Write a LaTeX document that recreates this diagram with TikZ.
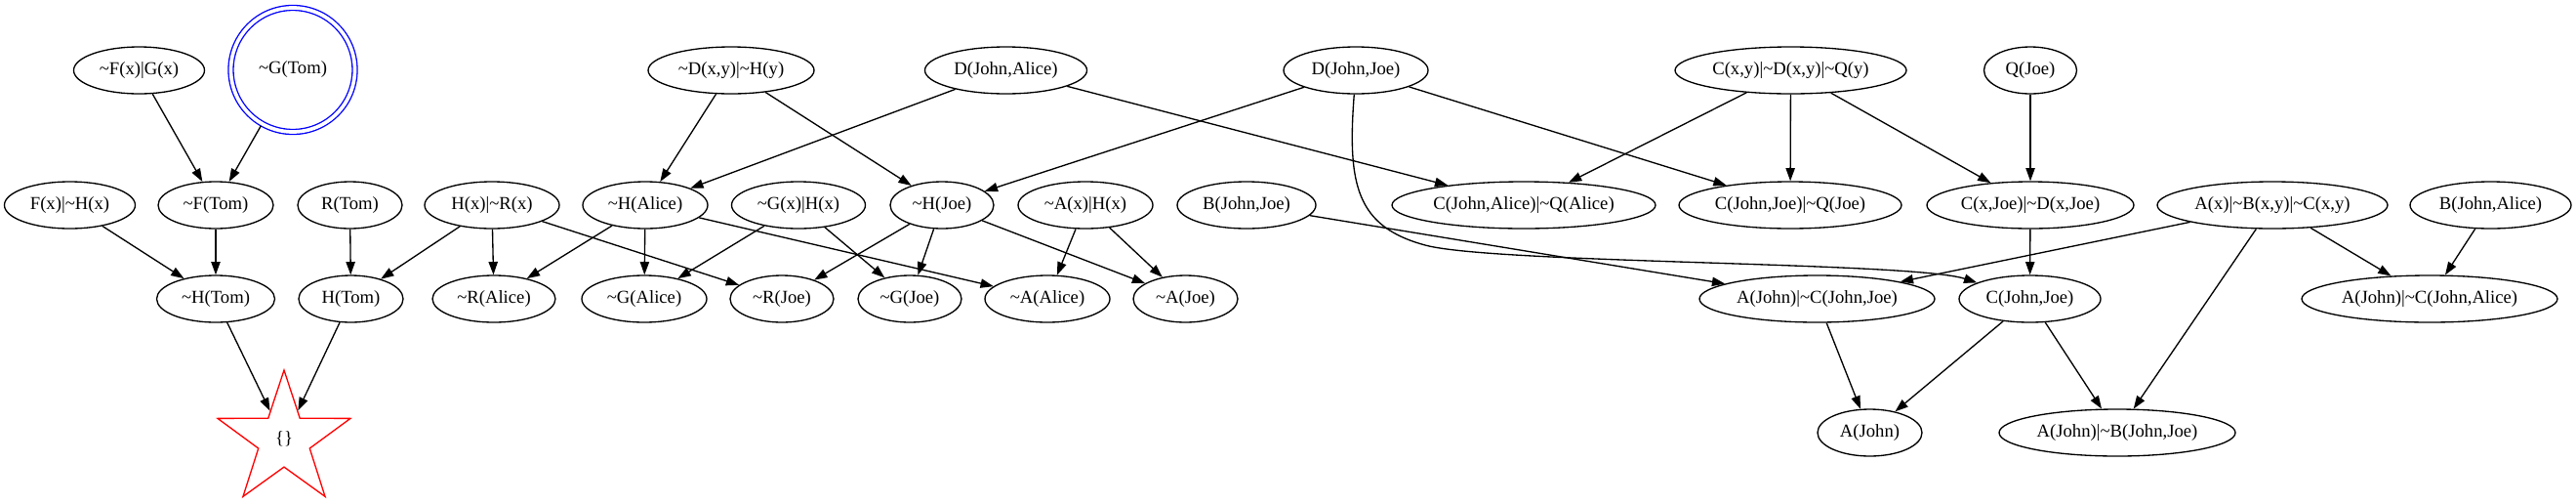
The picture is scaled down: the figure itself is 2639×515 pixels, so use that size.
\documentclass[tikz,border=0pt]{standalone}
\usepackage{fontspec}
\setmainfont{Liberation Serif}
\usetikzlibrary{shapes.geometric,arrows.meta}
\newcommand{\nt}{\textasciitilde}
\begin{document}
\begin{tikzpicture}[x=1pt,y=-1pt,
  gv/.style={draw, ellipse, line width=1.33pt, inner sep=0pt, minimum height=48pt,
    font=\fontsize{18.67pt}{22pt}\selectfont},
  dc/.style={draw=blue, circle, double, double distance=3.7pt, line width=1.33pt,
    minimum size=127pt, inner sep=0pt, outer sep=2.5pt, font=\fontsize{18.67pt}{22pt}\selectfont},
  stnode/.style={draw=red, star, star points=5, star point ratio=2.59, line width=1.33pt,
    minimum size=143pt, inner sep=0pt, font=\fontsize{18.67pt}{22pt}\selectfont},
  arr/.style={line width=1.33pt, -{Triangle[length=13.3pt,width=9.3pt]}}
]
\useasboundingbox (0,0) rectangle (2639,515);
% row 1
\node[gv, minimum width=134pt] (negFG) at (142.5,72) {\nt F(x)|G(x)};
\node[dc] (negGTom) at (300,71.5) {\nt G(Tom)};
\node[gv, minimum width=170pt] (negDH) at (749,72) {\nt D(x,y)|\nt H(y)};
\node[gv, minimum width=166pt] (DJA) at (1030.5,72) {D(John,Alice)};
\node[gv, minimum width=148pt] (DJJ) at (1389,72) {D(John,Joe)};
\node[gv, minimum width=237pt] (CxyDQ) at (1834.5,72) {C(x,y)|\nt D(x,y)|\nt Q(y)};
\node[gv, minimum width=95pt] (QJoe) at (2080,72) {Q(Joe)};
% row 2
\node[gv, minimum width=134pt] (FnegH) at (71.5,210) {F(x)|\nt H(x)};
\node[gv, minimum width=118pt] (negFTom) at (221,210) {\nt F(Tom)};
\node[gv, minimum width=107pt] (RTom) at (358.5,210) {R(Tom)};
\node[gv, minimum width=138pt] (HRx) at (504,210) {H(x)|\nt R(x)};
\node[gv, minimum width=128pt] (negHAlice) at (661,210) {\nt H(Alice)};
\node[gv, minimum width=137pt] (negGxHx) at (818,210) {\nt G(x)|H(x)};
\node[gv, minimum width=106pt] (negHJoe) at (965,210) {\nt H(Joe)};
\node[gv, minimum width=138pt] (negAxHx) at (1112,210) {\nt A(x)|H(x)};
\node[gv, minimum width=142pt] (BJJ) at (1277,210) {B(John,Joe)};
\node[gv, minimum width=270pt] (CJAQA) at (1561,210) {C(John,Alice)|\nt Q(Alice)};
\node[gv, minimum width=228pt] (CJJQJ) at (1834,210) {C(John,Joe)|\nt Q(Joe)};
\node[gv, minimum width=212pt] (CxJDxJ) at (2080,210) {C(x,Joe)|\nt D(x,Joe)};
\node[gv, minimum width=236pt] (AxBC) at (2328,210) {A(x)|\nt B(x,y)|\nt C(x,y)};
\node[gv, minimum width=165pt] (BJA) at (2551.5,210) {B(John,Alice)};
% row 3
\node[gv, minimum width=121pt] (negHTom) at (221,306) {\nt H(Tom)};
\node[gv, minimum width=107pt] (HTom) at (359.5,306) {H(Tom)};
\node[gv, minimum width=126pt] (negRAlice) at (506,306) {\nt R(Alice)};
\node[gv, minimum width=128pt] (negGAlice) at (660,306) {\nt G(Alice)};
\node[gv, minimum width=106pt] (negRJoe) at (801,306) {\nt R(Joe)};
\node[gv, minimum width=106pt] (negGJoe) at (932,306) {\nt G(Joe)};
\node[gv, minimum width=128pt] (negAAlice) at (1073,306) {\nt A(Alice)};
\node[gv, minimum width=107pt] (negAJoe) at (1214.5,306) {\nt A(Joe)};
\node[gv, minimum width=241pt] (AJCJJ) at (1861.5,306) {A(John)|\nt C(John,Joe)};
\node[gv, minimum width=145pt] (CJoe) at (2079.5,306) {C(John,Joe)};
\node[gv, minimum width=262pt] (AJCJA) at (2489,306) {A(John)|\nt C(John,Alice)};
% row 4
\node[stnode] (empty) at (291,450.5) {\raisebox{5pt}{\{\}}};
\node[gv, minimum width=107pt] (AJohn) at (1915.5,443) {A(John)};
\node[gv, minimum width=242pt] (AJBJJ) at (2169,443) {A(John)|\nt B(John,Joe)};
% edges
\draw[arr] (negFG) -- (negFTom);
\draw[arr] (negGTom) -- (negFTom);
\draw[arr] (FnegH) -- (negHTom);
\draw[arr] (negFTom) -- (negHTom);
\draw[arr] (RTom) -- (HTom);
\draw[arr] (HRx) -- (HTom);
\draw[arr] (HRx) -- (negRAlice);
\draw[arr] (HRx) -- (negRJoe);
\draw[arr] (negHTom) -- (empty);
\draw[arr] (HTom) -- (empty);
\draw[arr] (negDH) -- (negHAlice);
\draw[arr] (negDH) -- (negHJoe);
\draw[arr] (DJA) -- (negHAlice);
\draw[arr] (DJA) -- (CJAQA);
\draw[arr] (DJJ) -- (negHJoe);
\draw[arr] (DJJ) -- (CJJQJ);
\draw[arr] (DJJ.266) .. controls (1380,190) and (1390,232) .. (1460,251)
  .. controls (1530,270) and (1960,268) .. (CJoe.163);
\draw[arr] (negHAlice) -- (negRAlice);
\draw[arr] (negHAlice) -- (negGAlice);
\draw[arr] (negHAlice) -- (negAAlice);
\draw[arr] (negGxHx) -- (negGAlice);
\draw[arr] (negGxHx) -- (negGJoe);
\draw[arr] (negHJoe) -- (negRJoe);
\draw[arr] (negHJoe) -- (negGJoe);
\draw[arr] (negHJoe) -- (negAJoe);
\draw[arr] (negAxHx) -- (negAAlice);
\draw[arr] (negAxHx) -- (negAJoe);
\draw[arr] (BJJ) -- (AJCJJ);
\draw[arr] (CxyDQ) -- (CJAQA);
\draw[arr] (CxyDQ) -- (CJJQJ);
\draw[arr] (CxyDQ) -- (CxJDxJ);
\draw[arr] (QJoe) -- (CxJDxJ);
\draw[arr] (CxJDxJ) -- (CJoe);
\draw[arr] (AxBC) -- (AJCJJ);
\draw[arr] (AxBC) -- (AJBJJ);
\draw[arr] (AxBC) -- (AJCJA);
\draw[arr] (BJA) -- (AJCJA);
\draw[arr] (AJCJJ) -- (AJohn);
\draw[arr] (CJoe) -- (AJohn);
\draw[arr] (CJoe) -- (AJBJJ);
\end{tikzpicture}
\end{document}
